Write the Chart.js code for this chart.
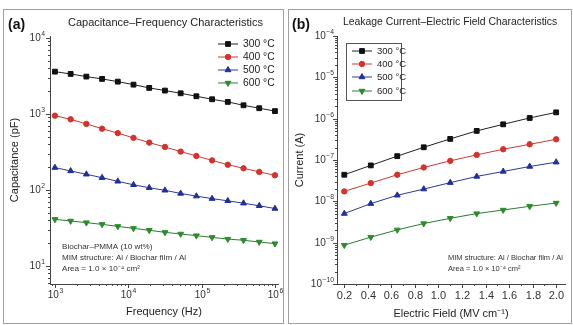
<!DOCTYPE html>
<html>
<head>
<meta charset="utf-8">
<script src="https://cdn.jsdelivr.net/npm/chart.js@4.4.0/dist/chart.umd.min.js"></script>
<style>
body { margin: 0; width: 573px; height: 325px; background: #fff; position: relative; overflow: hidden; font-family: "Liberation Sans", Arial, sans-serif; }
.panel { position: absolute; border: 1px solid #a0a0a0; box-sizing: border-box; }
canvas { position: absolute; }
.lbl { position: absolute; font-weight: bold; font-size: 14px; line-height: 1; color: #111; }
.ttl { position: absolute; line-height: 1; color: #222; white-space: nowrap; }
</style>
</head>
<body>
<div class="panel" style="left:3px;top:9px;width:281px;height:315px"></div>
<div class="panel" style="left:288px;top:9px;width:284px;height:315px"></div>
<canvas id="capChart" style="left:4px;top:10px" width="279" height="312"></canvas>
<canvas id="curChart" style="left:289px;top:10px" width="281" height="312"></canvas>
<div class="lbl" style="left:8px;top:17px">(a)</div>
<div class="ttl" style="left:68px;top:17px;font-size:11px">Capacitance–Frequency Characteristics</div>
<div class="lbl" style="left:292px;top:17px">(b)</div>
<div class="ttl" style="left:343px;top:17px;font-size:10.4px">Leakage Current–Electric Field Characteristics</div>
<script>
// ---- data: panel (a) ----
const seriesNames = ['300 °C', '400 °C', '500 °C', '600 °C'];
const capFreq = [1000, 1638, 2683, 4394, 7197, 11788, 19307, 31623, 51795, 84834, 138950, 227585, 372759, 610540, 1000000];
const cap300 = [3600, 3360, 3100, 2890, 2660, 2430, 2200, 2030, 1870, 1710, 1560, 1440, 1300, 1190, 1090];
const cap400 = [950, 850, 740, 640, 560, 485, 420, 368, 320, 280, 245, 215, 193, 173, 156];
const cap500 = [197, 178, 161, 145, 130, 117, 107, 99, 90, 83, 77, 72, 67, 62, 57];
const cap600 = [41.1, 39.1, 37.2, 35.3, 33.2, 31.3, 29.5, 27.7, 26.4, 25.1, 23.8, 22.6, 21.8, 20.7, 19.7];
const capXTickVals = [1e3, 1e4, 1e5, 1e6];
const capXTickLabels = ['10^3', '10^4', '10^5', '10^6'];
const capYTickVals = [1e1, 1e2, 1e3, 1e4];
const capYTickLabels = ['10^1', '10^2', '10^3', '10^4'];

// ---- data: panel (b) ----
const field = [0.2, 0.425, 0.65, 0.875, 1.1, 1.325, 1.55, 1.775, 2.0];
const cur300 = [4.4e-8, 7.4e-8, 1.24e-7, 2.03e-7, 3.24e-7, 5.06e-7, 7.3e-7, 1.04e-6, 1.42e-6];
const cur400 = [1.74e-8, 2.76e-8, 4.4e-8, 6.6e-8, 9.55e-8, 1.33e-7, 1.82e-7, 2.4e-7, 3.17e-7];
const cur500 = [5.06e-9, 8.8e-9, 1.4e-8, 1.98e-8, 2.83e-8, 4.0e-8, 5.28e-8, 6.96e-8, 8.85e-8];
const cur600 = [8.7e-10, 1.36e-9, 2.04e-9, 2.9e-9, 3.89e-9, 5.05e-9, 6.17e-9, 7.59e-9, 9.1e-9];
const fieldTickVals = [0.2, 0.4, 0.6, 0.8, 1.0, 1.2, 1.4, 1.6, 1.8, 2.0];
const fieldTickLabels = ['0.2', '0.4', '0.6', '0.8', '1.0', '1.2', '1.4', '1.6', '1.8', '2.0'];
const curYTickVals = [1e-10, 1e-9, 1e-8, 1e-7, 1e-6, 1e-5, 1e-4];
const curYTickLabels = ['10^−10', '10^−9', '10^−8', '10^−7', '10^−6', '10^−5', '10^−4'];

const FONT = '"Liberation Sans", Arial, sans-serif';
const AX = '#444';
const styles = [
  { color: '#111111', line: '#222222', pointStyle: 'rect', radius: 3.4, rotation: 0 },
  { color: '#d8302a', line: '#c83a34', pointStyle: 'circle', radius: 2.7, rotation: 0 },
  { color: '#1f2f9e', line: '#2a3a96', pointStyle: 'triangle', radius: 3.4, rotation: 0 },
  { color: '#2b8c2b', line: '#2f7a34', pointStyle: 'triangle', radius: 3.4, rotation: 180 }
];

function makeSets(xs, ys) {
  return ys.map((arr, i) => ({
    label: seriesNames[i],
    data: arr.map((v, j) => ({ x: xs[j], y: v })),
    borderColor: styles[i].line,
    backgroundColor: styles[i].color,
    pointBackgroundColor: styles[i].color,
    pointBorderColor: styles[i].color,
    pointStyle: styles[i].pointStyle,
    pointRotation: styles[i].rotation,
    pointRadius: styles[i].radius,
    borderWidth: 1,
    tension: 0
  }));
}

// minor + major ticks for a log axis
function logTicks(scale) {
  const lo = scale.min, hi = scale.max;
  const out = [];
  for (let d = Math.floor(Math.log10(lo)); d <= Math.ceil(Math.log10(hi)); d++) {
    for (let k = 1; k <= 9; k++) {
      const v = k * Math.pow(10, d);
      if (v >= lo * 0.999 && v <= hi * 1.001) out.push({ value: v });
    }
  }
  scale.ticks = out;
}

function isMajor(value, vals, log) {
  return vals.some(v => log ? Math.abs(Math.log10(value) - Math.log10(v)) < 1e-6 : Math.abs(value - v) < 1e-6);
}

function axisBase(extra) {
  return Object.assign({
    grid: { display: true, drawOnChartArea: false, drawTicks: false },
    border: { display: true, color: AX, width: 1 },
    ticks: { display: false, autoSkip: false }
  }, extra);
}

// draws "10" with a raised exponent, or plain text
function drawLabel(ctx, text, x, y, align, size) {
  const parts = text.split('^');
  ctx.font = size + 'px ' + FONT;
  const wb = ctx.measureText(parts[0]).width;
  let we = 0;
  if (parts[1]) { ctx.font = (size * 0.68) + 'px ' + FONT; we = ctx.measureText(parts[1]).width + 0.5; }
  const total = wb + we;
  const x0 = align === 'center' ? x - total / 2 : x - total;
  ctx.textAlign = 'left';
  ctx.textBaseline = 'middle';
  ctx.font = size + 'px ' + FONT;
  ctx.fillText(parts[0], x0, y);
  if (parts[1]) {
    ctx.font = (size * 0.68) + 'px ' + FONT;
    ctx.fillText(parts[1], x0 + wb + 0.5, y - size * 0.42);
  }
}

// axis ticks (long major, short minor) and labels
const axisText = {
  id: 'axisText',
  afterDraw(chart, args, opts) {
    const ctx = chart.ctx;
    ctx.save();
    ctx.strokeStyle = AX;
    ctx.fillStyle = '#333';
    ctx.lineWidth = 1;
    const xs = chart.scales.x, ys = chart.scales.y;
    const ox = opts.x, oy = opts.y;
    xs.ticks.forEach(t => {
      const px = Math.round(xs.getPixelForValue(t.value)) + 0.5;
      const major = isMajor(t.value, ox.vals, ox.log);
      ctx.beginPath();
      ctx.moveTo(px, xs.top);
      ctx.lineTo(px, xs.top + (major ? 4 : 2));
      ctx.stroke();
      if (major) drawLabel(ctx, ox.labels[ox.vals.findIndex(v => isMajor(t.value, [v], ox.log))], px, xs.top + ox.gap, 'center', ox.size);
    });
    ys.ticks.forEach(t => {
      const py = Math.round(ys.getPixelForValue(t.value)) + 0.5;
      const major = isMajor(t.value, oy.vals, oy.log);
      ctx.beginPath();
      ctx.moveTo(ys.right, py);
      ctx.lineTo(ys.right - (major ? 4 : 2), py);
      ctx.stroke();
      if (major) drawLabel(ctx, oy.labels[oy.vals.findIndex(v => isMajor(t.value, [v], oy.log))], ys.right - oy.gap, py, 'right', oy.size);
    });
    ctx.restore();
  }
};

// legend with line + marker, and free annotation text
const decor = {
  id: 'decor',
  afterDraw(chart, args, opts) {
    const ctx = chart.ctx;
    ctx.save();
    const lg = opts.legend;
    if (lg.box) {
      ctx.strokeStyle = '#555';
      ctx.lineWidth = 1;
      ctx.strokeRect(lg.box[0] + 0.5, lg.box[1] + 0.5, lg.box[2], lg.box[3]);
    }
    ctx.font = lg.font + ' ' + FONT;
    ctx.textBaseline = 'middle';
    ctx.textAlign = 'left';
    chart.data.datasets.forEach((ds, i) => {
      const y = lg.y[i];
      ctx.strokeStyle = ds.borderColor;
      ctx.lineWidth = 1;
      ctx.beginPath();
      ctx.moveTo(lg.x0, y);
      ctx.lineTo(lg.x1, y);
      ctx.stroke();
      ctx.fillStyle = ds.pointBackgroundColor;
      ctx.strokeStyle = ds.pointBorderColor;
      Chart.helpers.drawPoint(ctx, { pointStyle: ds.pointStyle, rotation: ds.pointRotation, radius: ds.pointRadius, borderWidth: 1 }, (lg.x0 + lg.x1) / 2, y);
      ctx.fillStyle = '#222';
      ctx.fillText(ds.label, lg.tx, y);
    });
    ctx.font = opts.noteFont + ' ' + FONT;
    ctx.fillStyle = '#333';
    opts.notes.forEach(n => ctx.fillText(n.text, n.x, n.y));
    ctx.restore();
  }
};

new Chart(document.getElementById('capChart'), {
  type: 'line',
  data: { datasets: makeSets(capFreq, [cap300, cap400, cap500, cap600]) },
  options: {
    responsive: false,
    animation: false,
    layout: { padding: { left: 0, right: 1, top: 26, bottom: 0 } },
    plugins: {
      legend: { display: false },
      tooltip: { enabled: false },
      axisText: {
        x: { vals: capXTickVals, labels: capXTickLabels, log: true, size: 10, gap: 11 },
        y: { vals: capYTickVals, labels: capYTickLabels, log: true, size: 10, gap: 5 }
      },
      decor: {
        legend: { font: '10.3px', x0: 214, x1: 234, tx: 239, y: [34, 47, 60, 73] },
        noteFont: '8.1px',
        notes: [
          { text: 'Biochar–PMMA (10 wt%)', x: 58, y: 237 },
          { text: 'MIM structure: Al / Biochar film / Al', x: 58, y: 248 },
          { text: 'Area = 1.0 × 10⁻⁴ cm²', x: 58, y: 259 }
        ]
      }
    },
    scales: {
      x: axisBase({
        type: 'logarithmic', min: 857, max: 1.1e6,
        afterBuildTicks: logTicks,
        afterFit: s => { s.height = 38; },
        title: { display: true, text: 'Frequency (Hz)', color: '#222', font: { family: FONT, size: 11 }, padding: { top: 2, bottom: 3 } }
      }),
      y: axisBase({
        type: 'logarithmic', min: 5.8, max: 10600,
        afterBuildTicks: logTicks,
        afterFit: s => { s.width = 46; },
        title: { display: true, text: 'Capacitance (pF)', color: '#222', font: { family: FONT, size: 11 }, padding: { top: 4, bottom: 2 } }
      })
    }
  },
  plugins: [axisText, decor]
});

new Chart(document.getElementById('curChart'), {
  type: 'line',
  data: { datasets: makeSets(field, [cur300, cur400, cur500, cur600]) },
  options: {
    responsive: false,
    animation: false,
    layout: { padding: { left: 0, right: 0, top: 26, bottom: 0 } },
    plugins: {
      legend: { display: false },
      tooltip: { enabled: false },
      axisText: {
        x: { vals: fieldTickVals, labels: fieldTickLabels, log: false, size: 11, gap: 12 },
        y: { vals: curYTickVals, labels: curYTickLabels, log: true, size: 10, gap: 3 }
      },
      decor: {
        legend: { font: '9.5px', box: [57, 33, 55, 57], x0: 63, x1: 83, tx: 88, y: [41, 54, 67, 81] },
        noteFont: '7.5px',
        notes: [
          { text: 'MIM structure: Al / Biochar film / Al', x: 159, y: 248 },
          { text: 'Area = 1.0 × 10⁻⁴ cm²', x: 159, y: 259 }
        ]
      }
    },
    scales: {
      x: axisBase({
        type: 'linear', min: 0.138, max: 2.075,
        afterBuildTicks: s => {
          const out = [];
          fieldTickVals.forEach((v, i) => {
            out.push({ value: v });
            if (i < fieldTickVals.length - 1) out.push({ value: (v + fieldTickVals[i + 1]) / 2 });
          });
          s.ticks = out;
        },
        afterFit: s => { s.height = 38; },
        title: { display: true, text: 'Electric Field (MV cm⁻¹)', color: '#222', font: { family: FONT, size: 11 }, padding: { top: 2, bottom: 1 } }
      }),
      y: axisBase({
        type: 'logarithmic', min: 1e-10, max: 1e-4,
        afterBuildTicks: logTicks,
        afterFit: s => { s.width = 48; },
        title: { display: true, text: 'Current (A)', color: '#222', font: { family: FONT, size: 11 }, padding: { top: 4, bottom: 2 } }
      })
    }
  },
  plugins: [axisText, decor]
});
</script>
</body>
</html>
